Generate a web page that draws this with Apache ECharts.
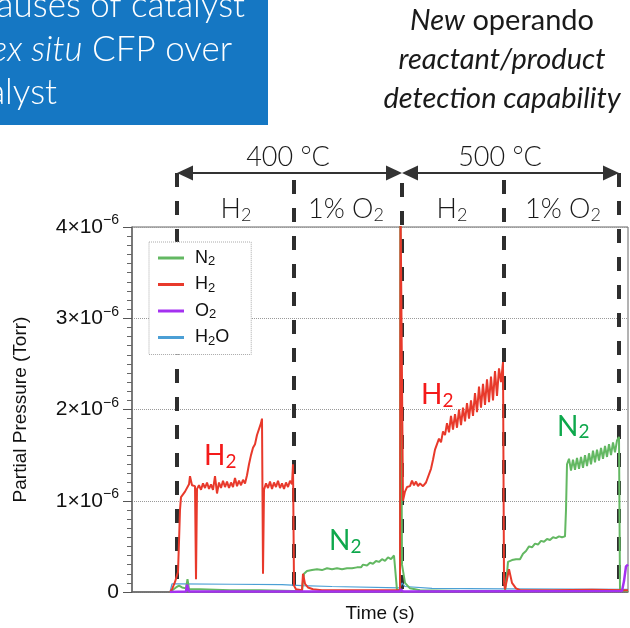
<!DOCTYPE html>
<html><head><meta charset="utf-8">
<script src="https://cdn.jsdelivr.net/npm/echarts/dist/echarts.min.js"></script>
<style>html,body{margin:0;padding:0;background:#fff}#main{width:630px;height:628px}</style>
</head><body><div id="main"></div>
<script>
// ---- data (time in arbitrary units, pressure in units of 1e-6 Torr) ----
const seriesNames = ['N2', 'H2', 'O2', 'H2O'];
const seriesColors = ['#63b862', '#e8392b', '#a431f0', '#4b9fd5'];

const h2Pts = [[38,0],[40,0.03],[43,0.11],[46,0.22],[47,0.55],[48,0.9],[49,1.04],[53,1.1],[57,1.18],[58,1.27],[60,1.17],[63,1.16],[64,0.14],[65,1.13],
[67,1.17],[69,1.12],[71,1.19],[73,1.14],[75,1.2],[77,1.13],[79,1.18],[81,1.12],[83,1.27],[85,1.08],[87,1.2],[89,1.14],[91,1.22],[93,1.15],[95,1.21],[97,1.14],[99,1.2],[101,1.15],[103,1.25],[105,1.16],[107,1.22],[109,1.17],[111,1.23],[113,1.19],[115,1.28],[117,1.4],[119,1.5],[121,1.58],[123,1.62],[125,1.72],[127,1.74],[129,1.85],[130,1.9],[131,0.2],[132,1.12],
[134,1.19],[136,1.14],[138,1.21],[140,1.13],[142,1.2],[144,1.15],[146,1.22],[148,1.14],[150,1.19],[152,1.13],[154,1.2],[156,1.15],[158,1.22],[160,1.18],[161,1.4],[162,0.07],[164,0.03],[166,0.02],[170,0.02],[171,0.2],[173,0.09],[176,0.05],[181,0.03],[190,0.02],[268,0.02],[268.5,4.3],[270,4.3],[271,1.0],
[273,1.1],[275,1.15],[278,1.16],[280,1.22],[282,1.17],[284,1.21],[286,1.16],[288,1.19],[291,1.16],[294,1.2],[296,1.22],[299,1.35],[301,1.45],[303,1.56],[305,1.55],[307,1.68],[309,1.64],[311,1.76],[313,1.72],[315,1.85],[317,1.75],[319,1.93],[321,1.78],[323,1.95],[325,1.8],[327,2.0],[329,1.83],[331,2.02],[333,1.87],[335,2.07],[337,1.9],[339,2.1],[341,1.93],[343,2.18],[345,1.97],[347,2.25],[349,2.02],[351,2.28],[353,2.05],[355,2.33],[357,2.08],[359,2.36],[361,2.1],[363,2.42],[365,2.15],[367,2.45],[369,2.3],[371,2.52],[372,0.1],[373,0.03],[375,0.02],[377,0.25],[380,0.1],[384,0.04],[388,0.02],[420,0.02],[460,0.025],[496,0.02]];

const n2Pts = [[38,0],[40,0.02],[44,0.05],[47,0.07],[50,0.05],[54,0.04],[55.5,0.14],[57,0.03],[68,0.03],[98,0.02],[128,0.02],[161,0.01],[170,0.01],[171,0.12],[172,0.2],[175,0.23],[180,0.24],[185,0.25],[190,0.24],[195,0.26],[200,0.25],[205,0.26],[210,0.25],[215,0.26],[220,0.26],[225,0.27],[229,0.27],[231,0.3],[235,0.29],[238,0.32],[241,0.31],[244,0.34],[247,0.33],[250,0.36],[253,0.34],[256,0.38],[259,0.36],[262,0.4],[264,0.39],[265,0.02],[268,0.02],[268.3,4.3],[269.3,4.3],[270,0.3],[273,0.1],[278,0.04],[288,0.02],[330,0.01],[373,0.01],[375,0.2],[376,0.33],[380,0.35],[384,0.36],[388,0.36],[391,0.42],[394,0.45],[397,0.5],[400,0.49],[403,0.53],[406,0.52],[409,0.56],[412,0.55],[415,0.58],[418,0.57],[421,0.6],[424,0.59],[427,0.61],[430,0.6],[433,0.61],[434,0.9],[435,1.4],[437,1.46],[439,1.33],[441,1.45],[443,1.34],[445,1.47],[447,1.35],[449,1.48],[451,1.36],[453,1.5],[455,1.38],[457,1.52],[459,1.4],[461,1.55],[463,1.42],[465,1.56],[467,1.44],[469,1.58],[471,1.46],[473,1.6],[475,1.48],[477,1.62],[479,1.5],[481,1.64],[483,1.53],[485,1.66],[487,1.7],[488,0.02],[496,0.01]];

const o2Pts = [[38,0],[54,0.005],[55,0.08],[56,0.08],[57,0.005],[268,0.005],[269,0.03],[271,0.005],[490,0.01],[492,0.12],[494,0.28],[496,0.3]];

const h2oPts = [[38,0],[40,0.09],[45,0.09],[100,0.085],[150,0.08],[170,0.07],[200,0.06],[268,0.045],[270,0.1],[273,0.06],[300,0.04],[372,0.035],[496,0.03]];

const yTickMantissa = ['0', '1×10', '2×10', '3×10', '4×10'];
const yTickExponent = '−6';

// annotations
const phaseBounds = [45, 162, 270, 372, 487];
const tempLabels = ['400 °C', '500 °C'];
const tempLabelT = [156, 368];
const phaseLabels = [['H', '2'], ['1% O', '2'], ['H', '2'], ['1% O', '2']];
const phaseLabelT = [104, 214, 320, 431];
const curveLabels = [
  {main: 'H', t: 72, v: 1.49, color: '#f41a1a'},
  {main: 'N', t: 197, v: 0.56, color: '#0ea84c'},
  {main: 'H', t: 289, v: 2.16, color: '#f41a1a'},
  {main: 'N', t: 425, v: 1.81, color: '#0ea84c'}
];

const legendText = {N2: '{n|N}{s|2}', H2: '{n|H}{s|2}', O2: '{n|O}{s|2}', H2O: '{n|H}{s|2}{n2|O}'};

const chart = echarts.init(document.getElementById('main'), null, {renderer: 'canvas'});
const dataMap = {N2: n2Pts, H2: h2Pts, O2: o2Pts, H2O: h2oPts};
const widths = {N2: 2, H2: 2, O2: 2.5, H2O: 1.2};
const zs = {N2: 3, H2: 4, O2: 5, H2O: 2};

const option = {
  animation: false,
  backgroundColor: '#fff',
  grid: {left: 132, right: 2, top: 227, bottom: 35, show: true, borderColor: '#666', borderWidth: 1},
  xAxis: {
    type: 'value', min: 0, max: 496,
    axisLine: {show: true, lineStyle: {color: '#666', width: 1.5}},
    axisTick: {show: false}, axisLabel: {show: false}, splitLine: {show: false},
    name: 'Time (s)', nameLocation: 'middle', nameGap: 12,
    nameTextStyle: {fontFamily: 'Liberation Sans', fontSize: 19, color: '#111', verticalAlign: 'top'}
  },
  yAxis: {
    type: 'value', min: 0, max: 4, interval: 1,
    axisLine: {show: true, lineStyle: {color: '#666', width: 1.5}},
    axisTick: {show: true, length: 9, lineStyle: {color: '#555'}},
    minorTick: {show: true, splitNumber: 10, length: 5, lineStyle: {color: '#666'}},
    splitLine: {show: true, lineStyle: {color: '#999', type: 'dotted', width: 1}},
    axisLabel: {
      margin: 13,
      formatter: v => { const i = Math.round(v); return i === 0 ? '{m|0}' : '{m|' + yTickMantissa[i] + '}{sup|' + yTickExponent + '}'; },
      rich: {
        m: {fontFamily: 'Liberation Sans', fontSize: 21, color: '#111', lineHeight: 27},
        sup: {fontFamily: 'Liberation Sans', fontSize: 14, color: '#111', lineHeight: 14, verticalAlign: 'top'}
      }
    },
    name: 'Partial Pressure (Torr)', nameLocation: 'middle', nameGap: 102,
    nameTextStyle: {fontFamily: 'Liberation Sans', fontSize: 19, color: '#111'}
  },
  legend: {
    orient: 'vertical', left: 149, top: 242, padding: [7, 22, 7, 9], itemGap: 7.5,
    itemWidth: 26, itemHeight: 3, icon: 'rect',
    backgroundColor: '#fff', borderColor: '#aaa', borderWidth: 1, borderType: 'dotted',
    data: seriesNames,
    formatter: n => legendText[n],
    textStyle: {
      rich: {
        n: {fontFamily: 'Liberation Sans', fontSize: 18, color: '#111', lineHeight: 20, padding: [0, 0, 0, 6]},
        n2: {fontFamily: 'Liberation Sans', fontSize: 18, color: '#111', lineHeight: 20},
        s: {fontFamily: 'Liberation Sans', fontSize: 13, color: '#111', lineHeight: 11, verticalAlign: 'bottom'}
      }
    }
  },
  series: seriesNames.map((n, i) => ({
    name: n, type: 'line', data: dataMap[n], symbol: 'none', showSymbol: false,
    color: seriesColors[i], lineStyle: {width: widths[n], color: seriesColors[i]},
    z: zs[n], clip: true
  }))
};
chart.setOption(option);

const px = t => chart.convertToPixel({xAxisIndex: 0}, t);
const py = v => chart.convertToPixel({yAxisIndex: 0}, v);
const y0 = py(0);
const arrowY = 173;
const dashTops = [173, 180, 183, 180, 173];
const g = [];
const ink = '#333';
const calib = 'Lato, "Open Sans", sans-serif';

// title box
g.push({type: 'rect', shape: {x: 0, y: 0, width: 268, height: 125}, style: {fill: '#1577c3'}, z: 10});
const titleLines = [
  {text: 'causes of catalyst', x: 245, y: 6},
  {text: '{i|ex situ} CFP over', x: 232, y: 50},
  {text: 'catalyst', x: 57, y: 93}
];
titleLines.forEach(l => g.push({type: 'text', z: 11, style: {text: l.text, x: l.x, y: l.y, fill: '#fff', align: 'right', textAlign: 'right', verticalAlign: 'middle', textVerticalAlign: 'middle', fontFamily: calib, fontSize: 35, fontWeight: 300, rich: {i: {fontFamily: calib, fontSize: 35, fontStyle: 'italic', fontWeight: 300, fill: '#fff'}}}}));

// right text
const rightLines = ['{i|New} operando', '{i|reactant/product}', '{i|detection capability}'];
const rightY = [21, 60, 99];
rightLines.forEach((t, i) => g.push({type: 'text', z: 11, style: {text: t, x: 502, y: rightY[i], fill: '#1a1a1a', align: 'center', textAlign: 'center', verticalAlign: 'middle', textVerticalAlign: 'middle', fontFamily: calib, fontSize: 29, rich: {i: {fontFamily: calib, fontSize: 29, fontStyle: 'italic', fill: '#1a1a1a'}}}}));

// dashed phase boundaries
phaseBounds.forEach((t, i) => {
  const x = px(t);
  g.push({type: 'line', z: 0, shape: {x1: x, y1: dashTops[i], x2: x, y2: y0}, style: {stroke: '#2e2e2e', lineWidth: 4, lineDash: [14, 14]}});
});

// temperature arrows
[[0, 2], [2, 4]].forEach(([a, b]) => {
  const xa = px(phaseBounds[a]), xb = px(phaseBounds[b]);
  g.push({type: 'line', z: 1, shape: {x1: xa + 8, y1: arrowY, x2: xb - 8, y2: arrowY}, style: {stroke: ink, lineWidth: 2}});
  g.push({type: 'polygon', z: 1, shape: {points: [[xa, arrowY], [xa + 16, arrowY - 7.5], [xa + 16, arrowY + 7.5]]}, style: {fill: ink}});
  g.push({type: 'polygon', z: 1, shape: {points: [[xb, arrowY], [xb - 16, arrowY - 7.5], [xb - 16, arrowY + 7.5]]}, style: {fill: ink}});
});
tempLabels.forEach((t, i) => g.push({type: 'text', z: 1, style: {text: t, x: px(tempLabelT[i]), y: 157, fill: '#1a1a1a', align: 'center', textAlign: 'center', verticalAlign: 'middle', textVerticalAlign: 'middle', fontFamily: calib, fontSize: 27, fontWeight: 300}}));

const subRich = (color, size, sub, w) => ({
  m: {fontFamily: calib, fontSize: size, fill: color, lineHeight: 30, fontWeight: w},
  s: {fontFamily: calib, fontSize: sub, fill: color, lineHeight: 18, verticalAlign: 'bottom', fontWeight: w}
});
phaseLabels.forEach((p, i) => g.push({type: 'text', z: 1, style: {text: '{m|' + p[0] + '}{s|' + p[1] + '}', x: px(phaseLabelT[i]), y: 209, align: 'center', textAlign: 'center', verticalAlign: 'middle', textVerticalAlign: 'middle', rich: subRich('#1a1a1a', 27, 18, 300)}}));

curveLabels.forEach(c => g.push({type: 'text', z: 6, style: {text: '{m|' + c.main + '}{s|2}', x: px(c.t), y: py(c.v), align: 'left', textAlign: 'left', verticalAlign: 'middle', textVerticalAlign: 'middle', rich: subRich(c.color, 28, 19, 'normal')}}));

chart.setOption({graphic: {elements: g}});
</script></body></html>
